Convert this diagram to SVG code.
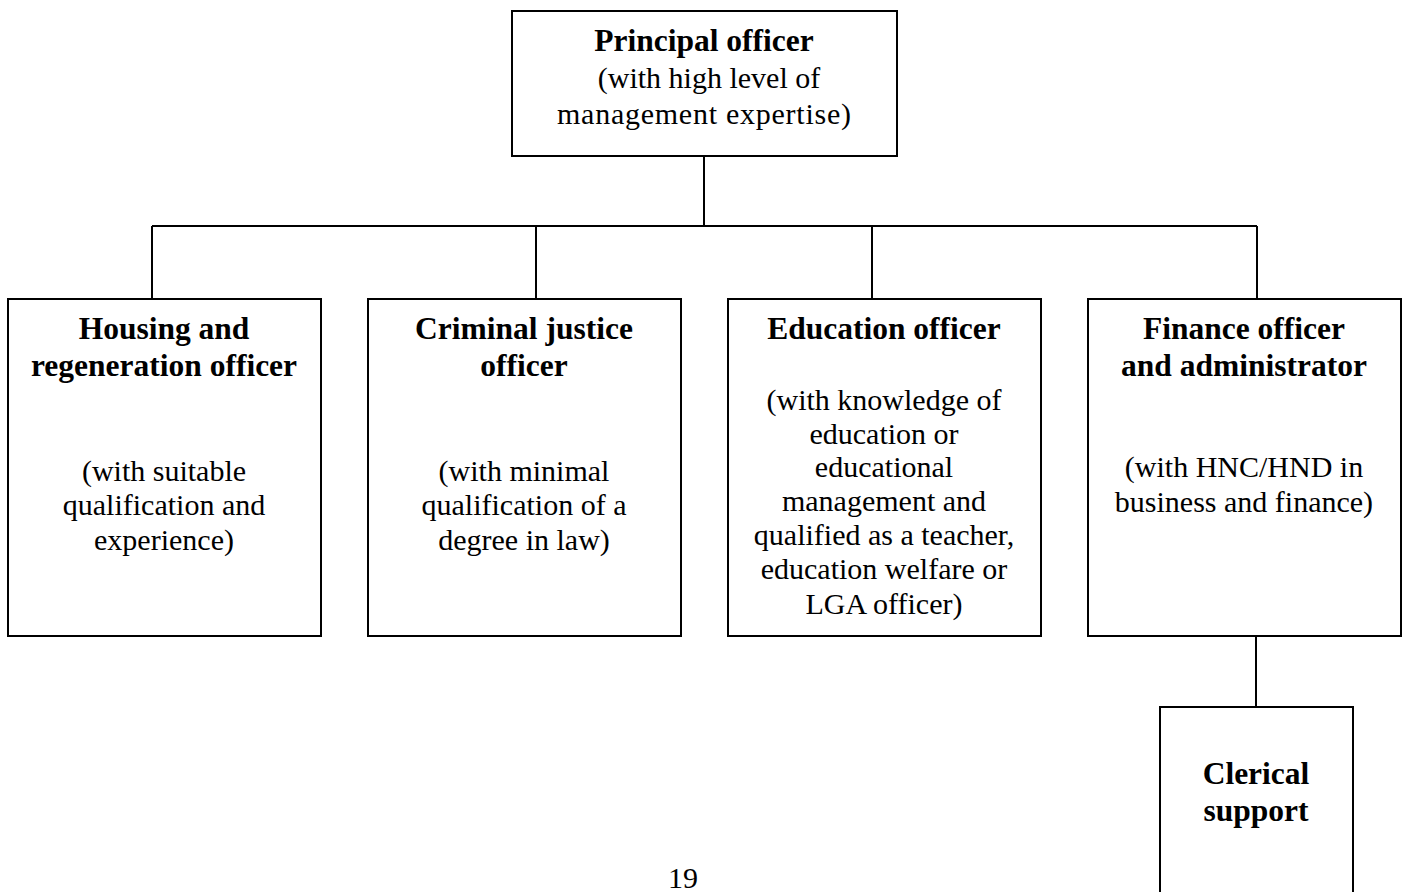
<svg xmlns="http://www.w3.org/2000/svg" width="1407" height="892" viewBox="0 0 1407 892">
<style>
.box{fill:#fff;stroke:#000;stroke-width:2}
.con{fill:none;stroke:#000;stroke-width:2}
text{font-family:"Liberation Serif","Times New Roman",serif;text-anchor:middle;fill:#000}
.t{font-weight:bold;font-size:31.5px}
.s{font-size:30px}
</style>
<rect width="1407" height="892" fill="#fff"/>
<g id="connectors">
<path class="con" d="M704 156V226M152 226H1257M152 226V299M536 226V299M872 226V299M1257 226V299M1256 636V707"/>
</g>
<g id="principal">
<rect class="box" x="512" y="11" width="385" height="145"/>
<text class="t" x="704" y="51">Principal officer</text>
<text class="s" x="709" y="88">(with high level of</text>
<text class="s" x="704" y="124" textLength="294" lengthAdjust="spacing">management expertise)</text>
</g>
<g id="housing">
<rect class="box" x="8" y="299" width="313" height="337"/>
<text class="t" x="164" y="339">Housing and</text>
<text class="t" x="164" y="376">regeneration officer</text>
<text class="s" x="164" y="481">(with suitable</text>
<text class="s" x="164" y="515">qualification and</text>
<text class="s" x="164" y="550">experience)</text>
</g>
<g id="criminal">
<rect class="box" x="368" y="299" width="313" height="337"/>
<text class="t" x="524" y="339">Criminal justice</text>
<text class="t" x="524" y="376">officer</text>
<text class="s" x="524" y="481">(with minimal</text>
<text class="s" x="524" y="515">qualification of a</text>
<text class="s" x="524" y="550">degree in law)</text>
</g>
<g id="education">
<rect class="box" x="728" y="299" width="313" height="337"/>
<text class="t" x="884" y="339">Education officer</text>
<text class="s" x="884" y="410">(with knowledge of</text>
<text class="s" x="884" y="444">education or</text>
<text class="s" x="884" y="477">educational</text>
<text class="s" x="884" y="511">management and</text>
<text class="s" x="884" y="545">qualified as a teacher,</text>
<text class="s" x="884" y="579">education welfare or</text>
<text class="s" x="884" y="614">LGA officer)</text>
</g>
<g id="finance">
<rect class="box" x="1088" y="299" width="313" height="337"/>
<text class="t" x="1244" y="339">Finance officer</text>
<text class="t" x="1244" y="376">and administrator</text>
<text class="s" x="1244" y="477">(with HNC/HND in</text>
<text class="s" x="1244" y="512">business and finance)</text>
</g>
<g id="clerical">
<rect class="box" x="1160" y="707" width="193" height="200"/>
<text class="t" x="1256" y="784">Clerical</text>
<text class="t" x="1256" y="821">support</text>
</g>
<text class="s" x="683" y="888">19</text>
</svg>
